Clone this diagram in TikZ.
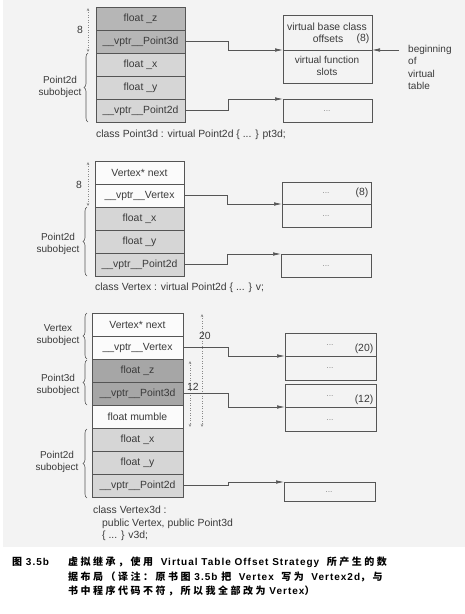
\documentclass[tikz,border=0pt]{standalone}
\usepackage{fontspec}
\setmainfont{Liberation Sans}
\newfontfamily\capcjk{Noto Sans CJK SC}[LetterSpace=25]
\newfontfamily\caplat{Liberation Sans}[LetterSpace=10]
\newcommand\cj[1]{{\capcjk\bfseries #1}}
\newcommand\la[1]{{\caplat\bfseries #1}}
\usetikzlibrary{decorations.pathreplacing,arrows.meta,calc}
\definecolor{bgc}{HTML}{F3F3F3}
\definecolor{txt}{HTML}{3A3A3A}
\definecolor{edge}{HTML}{555555}
\definecolor{light}{HTML}{D6D6D6}
\definecolor{mid}{HTML}{B6B6B6}
\definecolor{dark}{HTML}{A6A6A6}
\definecolor{white2}{HTML}{FBFBFB}
\begin{document}
\begin{tikzpicture}[x=1pt,y=-1pt,
  font=\fontsize{10.4}{12}\selectfont, text=txt,
  fld/.style={draw=edge, line width=0.8pt, minimum height=23pt, anchor=north west, inner sep=0pt, outer sep=0pt},
  vt/.style={draw=edge, line width=0.7pt, anchor=north west, inner sep=0pt, outer sep=0pt},
  conn/.style={draw=edge, line width=0.6pt, -{Latex[length=8pt,width=3.5pt]}},
  dim/.style={draw=edge!70, line width=0.5pt, dotted, {Stealth[length=3pt,width=2.5pt]}-{Stealth[length=3pt,width=2.5pt]}},
  brc/.style={draw=edge, line width=0.6pt, decorate, decoration={brace, amplitude=4pt}},
  dots/.style={font=\fontsize{8.5}{9}\selectfont, text=txt!60},
  lbl/.style={align=center, inner sep=0pt, font=\fontsize{10}{12.3}\selectfont},
  capt/.style={anchor=west, inner sep=0pt, text=black, font=\fontsize{10}{12}\selectfont}]
\useasboundingbox (0,0) rectangle (465,614);
\fill[bgc] (3,0) rectangle (465,547);

% ---------- section 1 ----------
\node[fld, fill=mid,   minimum width=89pt] (az)  at (96,7)  {float \_z};
\node[fld, fill=mid,   minimum width=89pt] (ap3) at (96,30) {\_\_vptr\_\_Point3d};
\node[fld, fill=light, minimum width=89pt] (ax)  at (96,53) {float \_x};
\node[fld, fill=light, minimum width=89pt] (ay)  at (96,76) {float \_y};
\node[fld, fill=light, minimum width=89pt] (ap2) at (96,99) {\_\_vptr\_\_Point2d};
\node[anchor=west, inner sep=0pt] (acls) at (96,135) {class Point3d : virtual Point2d \{ ... \} pt3d;};

\coordinate (ad1) at (88,8); \coordinate (ad2) at (88,52);
\draw[dim] (ad1) -- (ad2);
\node[inner sep=0pt] (a8) at (80,30) {8};
\coordinate (ab1) at (88,122); \coordinate (ab2) at (88,53);
\draw[brc] (ab1) -- (ab2);
\node[lbl] (asub) at (60,87) {Point2d\\subobject};

\node[vt, minimum width=89pt, minimum height=35pt] (avt) at (283,15) {};
\node[vt, minimum width=89pt, minimum height=33pt] (avb) at (283,50) {};
\node[inner sep=0pt] (avt1) at (327,27) {virtual base class};
\node[inner sep=0pt] (avt2) at (328,38.5) {offsets};
\node[inner sep=0pt] (avt3) at (363,38.5) {(8)};
\node[lbl] (avb1) at (327,66) {virtual function\\slots};
\node[vt, minimum width=89pt, minimum height=23pt] (av2) at (283,99) {};
\node[dots] (av2d) at (327,111) {...};

\node[lbl, anchor=north west, align=left] (abeg) at (408,45) {beginning\\of\\virtual\\table};
\coordinate (aarr) at (399,50);
\draw[conn] (aarr) -- (avb.north east);
\draw[conn] (ap3.east) -- ++(43,0) |- (avb.north west);
\draw[conn] (ap2.east) -- ++(43,0) |- (av2.north west);

% ---------- section 2 ----------
\node[fld, fill=white2, minimum width=89pt] (bn)  at (95,161) {Vertex* next};
\node[fld, fill=white2, minimum width=89pt] (bvv) at (95,184) {\_\_vptr\_\_Vertex};
\node[fld, fill=light,  minimum width=89pt] (bx)  at (95,207) {float \_x};
\node[fld, fill=light,  minimum width=89pt] (by)  at (95,230) {float \_y};
\node[fld, fill=light,  minimum width=89pt] (bp2) at (95,253) {\_\_vptr\_\_Point2d};
\node[anchor=west, inner sep=0pt] (bcls) at (95,288) {class Vertex : virtual Point2d \{ ... \} v;};

\coordinate (bd1) at (88,162); \coordinate (bd2) at (88,206);
\draw[dim] (bd1) -- (bd2);
\node[inner sep=0pt] (b8) at (79,185) {8};
\coordinate (bb1) at (87,276); \coordinate (bb2) at (87,207);
\draw[brc] (bb1) -- (bb2);
\node[lbl] (bsub) at (58,244) {Point2d\\subobject};

\node[vt, minimum width=89pt, minimum height=22pt] (bvt) at (282,182) {};
\node[vt, minimum width=89pt, minimum height=23pt] (bvb) at (282,204) {};
\node[dots] (bvt1) at (326,193) {...};
\node[inner sep=0pt] (bvt2) at (362,193) {(8)};
\node[dots] (bvb1) at (326,216) {...};
\node[vt, minimum width=90pt, minimum height=23pt] (bv2) at (281,254) {};
\node[dots] (bv2d) at (326,266) {...};
\draw[conn] (bvv.east) -- ++(43,0) |- (bvb.north west);
\draw[conn] (bp2.east) -- ++(43,0) |- (bv2.north west);

% ---------- section 3 ----------
\node[fld, fill=white2, minimum width=91pt] (cn)  at (92,313) {Vertex* next};
\node[fld, fill=white2, minimum width=91pt] (cvv) at (92,336) {\_\_vptr\_\_Vertex};
\node[fld, fill=dark,   minimum width=91pt] (cz)  at (92,359) {float \_z};
\node[fld, fill=dark,   minimum width=91pt] (cp3) at (92,382) {\_\_vptr\_\_Point3d};
\node[fld, fill=white2, minimum width=91pt] (cm)  at (92,405) {float mumble};
\node[fld, fill=light,  minimum width=91pt] (cx)  at (92,428) {float \_x};
\node[fld, fill=light,  minimum width=91pt] (cy)  at (92,451) {float \_y};
\node[fld, fill=light,  minimum width=91pt] (cp2) at (92,474) {\_\_vptr\_\_Point2d};
\node[anchor=north west, align=left, inner sep=0pt, font=\fontsize{10.4}{12.3}\selectfont] (ccls) at (93,506)
  {class Vertex3d :\\\hspace*{9pt}public Vertex, public Point3d\\\hspace*{9pt}\{ ... \} v3d;};

\coordinate (cd1) at (202,314); \coordinate (cd2) at (202,427);
\draw[dim] (cd1) -- (cd2);
\node[inner sep=0pt] (c20) at (205,336) {20};
\coordinate (ce1) at (190,361); \coordinate (ce2) at (190,427);
\draw[dim] (ce1) -- (ce2);
\node[inner sep=0pt] (c12) at (193,387) {12};

\coordinate (cb1) at (87,359); \coordinate (cb2) at (87,313);
\draw[brc] (cb1) -- (cb2);
\node[lbl] (csub1) at (58,335) {Vertex\\subobject};
\coordinate (cb3) at (87,405); \coordinate (cb4) at (87,360);
\draw[brc] (cb3) -- (cb4);
\node[lbl] (csub2) at (58,385) {Point3d\\subobject};
\coordinate (cb5) at (87,498); \coordinate (cb6) at (87,429);
\draw[brc] (cb5) -- (cb6);
\node[lbl] (csub3) at (57,462) {Point2d\\subobject};

\node[vt, minimum width=91pt, minimum height=23pt] (cvt) at (285,333) {};
\node[vt, minimum width=91pt, minimum height=24pt] (cvb) at (285,356) {};
\node[dots] (cvt1) at (330,345) {...};
\node[inner sep=0pt] (cvt2) at (364,349) {(20)};
\node[dots] (cvb1) at (330,368) {...};
\node[vt, minimum width=91pt, minimum height=23pt] (cwt) at (285,384) {};
\node[vt, minimum width=91pt, minimum height=24pt] (cwb) at (285,407) {};
\node[dots] (cwt1) at (330,396) {...};
\node[inner sep=0pt] (cwt2) at (364,400) {(12)};
\node[dots] (cwb1) at (330,420) {...};
\node[vt, minimum width=91pt, minimum height=19pt] (cv2) at (284,482) {};
\node[dots] (cv2d) at (329,492) {...};
\draw[conn] (cvv.east) -- ++(45,0) |- (cvb.north west);
\draw[conn] (cp3.east) -- ++(45,0) |- (cwb.north west);
\draw[conn] (cp2.east) -- ++(45,0) |- (cv2.north west);

% ---------- caption ----------
\node[capt] (fig) at (12,562) {\cj{图}\la{ 3.5b}};
\node[capt] (cap1) at (68,562) {\cj{虚拟继承，使用}\la{\ \ Virtual Table Offset Strategy\ \ }\cj{所产生的数}};
\node[capt] (cap2) at (68,577) {\cj{据布局（译注：原书图}\la{ 3.5b }\cj{把}\la{\ \ Vertex\ \ }\cj{写为}\la{\ \ Vertex2d}\cj{，与}};
\node[capt] (cap3) at (68,591) {\cj{书中程序代码不符，所以我全部改为}\la{ Vertex}\cj{）}};
\end{tikzpicture}
\end{document}
